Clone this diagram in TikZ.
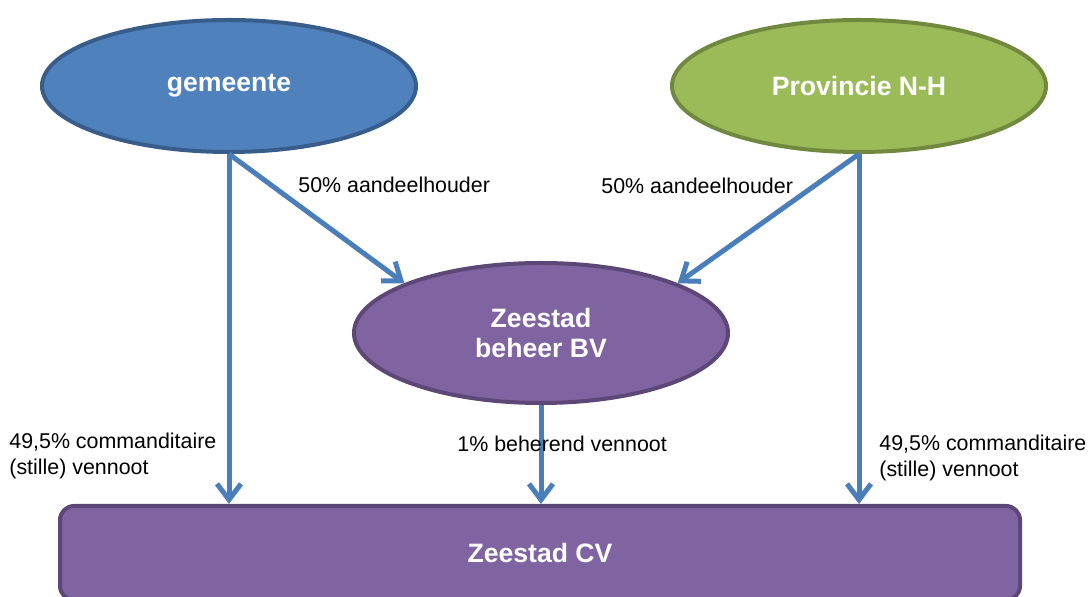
\documentclass[tikz,border=0pt]{standalone}
\usepackage{fontspec}
\setmainfont{Liberation Sans}
\usetikzlibrary{arrows.meta,shapes.geometric}
\definecolor{gemfill}{HTML}{4F81BD}
\definecolor{gemline}{HTML}{385D8A}
\definecolor{provfill}{HTML}{9BBB59}
\definecolor{provline}{HTML}{71893F}
\definecolor{zeefill}{HTML}{8064A2}
\definecolor{zeeline}{HTML}{5C4776}
\definecolor{arrblue}{HTML}{4A7EBB}
\begin{document}
\begin{tikzpicture}[
  x=0.5pt, y=-0.5pt,
  ell/.style={ellipse, line width=2pt, minimum width=187pt, minimum height=66pt, inner sep=0pt,
    text=white, font=\fontsize{13.3}{15.5}\selectfont\bfseries, align=center},
  cvbox/.style={rectangle, rounded corners=7pt, line width=2pt, fill=zeefill, draw=zeeline,
    minimum width=480pt, minimum height=47pt, text=white, font=\fontsize{13.3}{15.5}\selectfont\bfseries},
  lab/.style={font=\fontsize{10.7}{13}\selectfont, align=left, inner sep=0pt},
  arr/.style={-{Straight Barb[length=8pt, width=12pt]}, line width=2.5pt, arrblue}
]
\useasboundingbox (0,0) rectangle (1088,597);
\clip (0,0) rectangle (1088,597);
\node[ell, fill=gemfill, draw=gemline] (gem) at (229,86) {gemeente};
\node[ell, fill=provfill, draw=provline] (prov) at (859,86) {Provincie N-H};
\node[ell, fill=zeefill, draw=zeeline, minimum height=70pt] (beh) at (541,333) {Zeestad\\beheer BV};
\node[cvbox] (cv) at (540,553) {Zeestad CV};
% aandeelhouders
\draw[arr] (gem.south) -- (beh.160);
\draw[arr] (prov.south) -- (beh.20);
% vennoten
\draw[arr] (gem.south) -- (gem.south |- cv.north);
\draw[arr] (prov.south) -- (prov.south |- cv.north);
\draw[arr] (beh.south) -- (beh.south |- cv.north);
\node[lab, anchor=west] at (298,185) {50\% aandeelhouder};
\node[lab, anchor=west] at (601,186) {50\% aandeelhouder};
\node[lab, anchor=west] at (9,456) {49,5\% commanditaire\\(stille) vennoot};
\node[lab, anchor=west] at (457,444) {1\% beherend vennoot};
\node[lab, anchor=west] at (879,458) {49,5\% commanditaire\\(stille) vennoot};
\end{tikzpicture}
\end{document}
